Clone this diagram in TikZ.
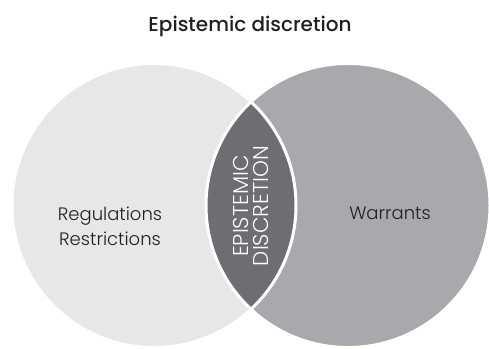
\documentclass[tikz,border=0pt]{standalone}
\usepackage{fontspec}
\usepackage{tikz}
\usepackage{xcolor}
\setmainfont{Poppins}
\newfontfamily\lightfont{Poppins Light}
\newfontfamily\mediumfont{Poppins Medium}
\definecolor{lightgrey}{HTML}{E6E7E8}
\definecolor{midgrey}{HTML}{A7A9AC}
\definecolor{darkgrey}{HTML}{6D6E71}
\definecolor{ink}{HTML}{231F20}
\tikzset{label text/.style={text=ink,font=\lightfont\fontsize{18}{25}\selectfont,align=center}}

\begin{document}
\begin{tikzpicture}[x=1pt,y=-1pt]
\useasboundingbox (0,0) rectangle (489,348);
\fill[lightgrey] (154,205.5) circle (142);
\fill[midgrey] (348,205.5) circle (142);
\begin{scope}
\clip (154,205.5) circle (142);
\fill[darkgrey] (348,205.5) circle (142);
\end{scope}
\draw[white,line width=3pt] (154,205.5) circle (142);
\draw[white,line width=3pt] (348,205.5) circle (142);
\node[anchor=base,text=ink,font=\mediumfont\fontsize{20}{24}\selectfont] (title) at (250,31) {Epistemic discretion};
\node[label text] (regs) at (110,226) {Regulations\\Restrictions};
\node[label text] (warrants) at (390,213) {Warrants};
\node[rotate=90,text=white,align=center,font=\lightfont\fontsize{21.5}{20}\selectfont] (lens) at (251,206) {EPISTEMIC\\DISCRETION};
\end{tikzpicture}
\end{document}
